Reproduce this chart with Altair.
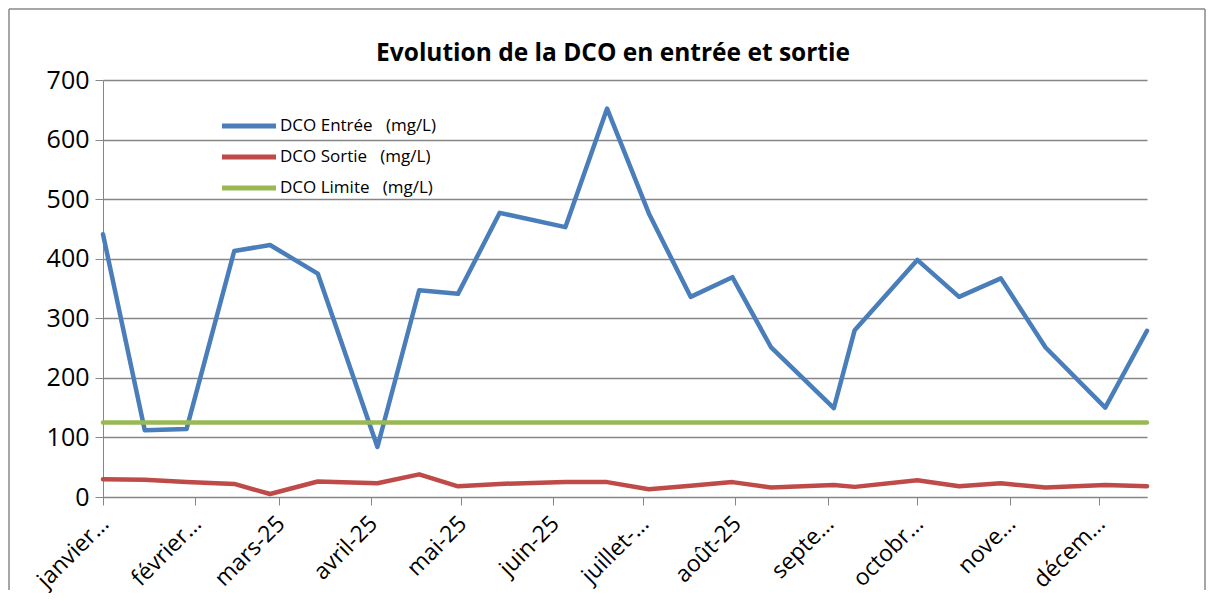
import altair as alt
import pandas as pd

dates = ["2025-01-01", "2025-01-15", "2025-01-29", "2025-02-14", "2025-02-26", "2025-03-14",
         "2025-04-03", "2025-04-17", "2025-04-30", "2025-05-14", "2025-06-05", "2025-06-19",
         "2025-07-03", "2025-07-17", "2025-07-31", "2025-08-13", "2025-09-03", "2025-09-10",
         "2025-10-01", "2025-10-15", "2025-10-29", "2025-11-13", "2025-12-03", "2025-12-17"]
entree = [441, 112, 114, 413, 423, 375, 84, 347, 341, 477, 453, 652,
          476, 336, 369, 251, 149, 280, 398, 336, 367, 251, 150, 279]
sortie = [30, 29, 25, 22, 5, 26, 23, 38, 18, 22, 25, 25,
          13, 19, 25, 16, 20, 17, 28, 18, 23, 16, 20, 18]
limite = [125, 125, 125, 125, 125, 125, 125, 125, 125, 125, 125, 125,
          125, 125, 125, 125, 125, 125, 125, 125, 125, 125, 125, 125]

series_names = ["DCO Entrée\u00a0\u00a0 (mg/L)", "DCO Sortie\u00a0\u00a0 (mg/L)", "DCO Limite\u00a0\u00a0 (mg/L)"]
series_colors = ["#4A7EBB", "#BE4B48", "#98B954"]
month_labels = ["janvier…", "février…", "mars-25", "avril-25", "mai-25", "juin-25",
                "juillet-…", "août-25", "septe…", "octobr…", "nove…", "décem…"]
y_ticks = [0, 100, 200, 300, 400, 500, 600, 700]
title_text = "Evolution de la DCO en entrée et sortie"

rows = []
for name, vals in zip(series_names, [entree, sortie, limite]):
    for d, v in zip(dates, vals):
        rows.append({"date": d, "value": v, "serie": name})
df = pd.DataFrame(rows)

W, H = 1044, 417
tick_vals = [alt.DateTime(year=2025, month=m, date=1, utc=True) for m in range(1, 13)]
label_expr = "[" + ",".join("'" + s + "'" for s in month_labels) + "][utcmonth(datum.value)]"

lines = alt.Chart(df).mark_line(strokeWidth=4.5, strokeCap="round", strokeJoin="round").encode(
    x=alt.X("date:T",
            scale=alt.Scale(type="utc", nice=False,
                            domain=[alt.DateTime(year=2025, month=1, date=1, utc=True),
                                    alt.DateTime(year=2025, month=12, date=17, utc=True)]),
            axis=alt.Axis(title=None, values=tick_vals, labelExpr=label_expr, labelAngle=-45,
                          labelFontSize=23, labelColor="#000000", labelFont="Open Sans",
                          grid=False, tickSize=8, labelPadding=7, labelOffset=-6,
                          labelOverlap=False,
                          domainColor="#868686", tickColor="#868686", labelBound=False,
                          labelFlush=False)),
    y=alt.Y("value:Q", scale=alt.Scale(domain=[0, 700], nice=False),
            axis=alt.Axis(title=None, values=y_ticks, labelFontSize=25, labelColor="#000000",
                          labelFont="Open Sans", grid=True, gridColor="#868686", gridWidth=1.3,
                          tickSize=8, labelPadding=6, domainColor="#868686",
                          tickColor="#868686")),
    color=alt.Color("serie:N",
                    scale=alt.Scale(domain=series_names, range=series_colors),
                    sort=series_names,
                    legend=alt.Legend(title=None, orient="none", legendX=130, legendY=30,
                                      symbolType="M-2,0H2", symbolStrokeWidth=5,
                                      symbolSize=729, labelFontSize=17, labelFont="Open Sans",
                                      labelColor="#000000", rowPadding=5, labelOffset=15,
                                      labelLimit=400)),
    order=alt.Order("date:T"),
)

frame_df = pd.DataFrame({"a": [0]})
frame_style = dict(stroke="#888888", strokeWidth=1.5)
frame_left = alt.Chart(frame_df).mark_rule(**frame_style).encode(
    x=alt.value(-94), y=alt.value(-71), y2=alt.value(510))
frame_right = alt.Chart(frame_df).mark_rule(**frame_style).encode(
    x=alt.value(1102), y=alt.value(-71), y2=alt.value(510))
frame_top = alt.Chart(frame_df).mark_rule(**frame_style).encode(
    y=alt.value(-71), x=alt.value(-94), x2=alt.value(1102))

title = alt.Chart(pd.DataFrame({"t": [title_text]})).mark_text(
    font="Open Sans", fontSize=24.5, fontWeight="bold", color="#000000",
    align="center", baseline="alphabetic"
).encode(text="t:N", x=alt.value(510), y=alt.value(-19))

chart = alt.layer(frame_left, frame_right, frame_top, lines, title).properties(
    width=W, height=H, padding=0,
).configure_view(stroke=None)

chart.save("out.html", embed_options={"renderer": "svg", "actions": False})
